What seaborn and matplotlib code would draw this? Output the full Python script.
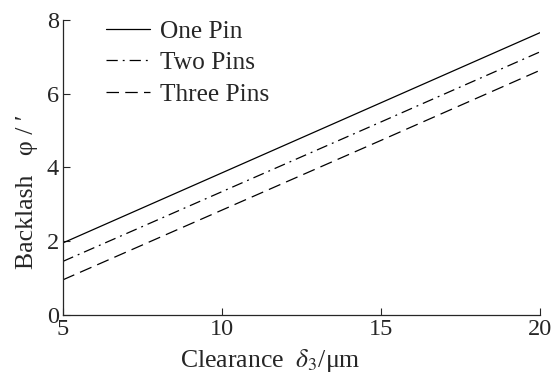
import pandas as pd
import matplotlib.pyplot as plt
import seaborn as sns

# Values
clearance = [5, 10, 15, 20]
one_pin = [1.95, 3.85, 5.75, 7.65]
two_pins = [1.45, 3.34, 5.23, 7.13]
three_pins = [0.95, 2.84, 4.73, 6.63]
series_names = ["One Pin", "Two Pins", "Three Pins"]

sns.set_style("ticks")
plt.rcParams['font.family'] = 'serif'
plt.rcParams['font.serif'] = ['Liberation Serif', 'DejaVu Serif']
plt.rcParams['mathtext.fontset'] = 'stix'

df = pd.DataFrame({
    "clearance": clearance * 3,
    "backlash": one_pin + two_pins + three_pins,
    "series": [s for s in series_names for _ in clearance],
})

fig, ax = plt.subplots(figsize=(5.56, 3.74), dpi=100)
sns.lineplot(data=df, x="clearance", y="backlash", style="series",
             dashes={"One Pin": "", "Two Pins": (9, 4, 1.5, 4), "Three Pins": (10, 5)},
             color="black", linewidth=0.9, ax=ax)

ax.set_xlim(5, 20)
ax.set_ylim(0, 8)
ax.set_xticks([5, 10, 15, 20])
ax.set_yticks([0, 2, 4, 6, 8])
ax.tick_params(direction="in", labelsize=17.5, length=5, width=0.8, pad=3)
for sp in ["left", "bottom"]:
    ax.spines[sp].set_linewidth(0.9)
sns.despine(ax=ax)

ax.set_xlabel(r"Clearance  $\delta_3$/μm", fontsize=18.5, va="top")
ax.xaxis.set_label_coords(0.434, -0.110)
ax.set_ylabel("Backlash   φ / ′", fontsize=18.5, va="center")
ax.yaxis.set_label_coords(-0.076, 0.417)

leg = ax.legend(loc="upper left", bbox_to_anchor=(0.09, 0.998), frameon=False,
                borderpad=0, borderaxespad=0,
                fontsize=18.3, handlelength=1.75, handletextpad=0.4, labelspacing=0.33)

fig.subplots_adjust(left=0.113, right=0.971, top=0.947, bottom=0.158)
plt.savefig("out.png", dpi=100)
